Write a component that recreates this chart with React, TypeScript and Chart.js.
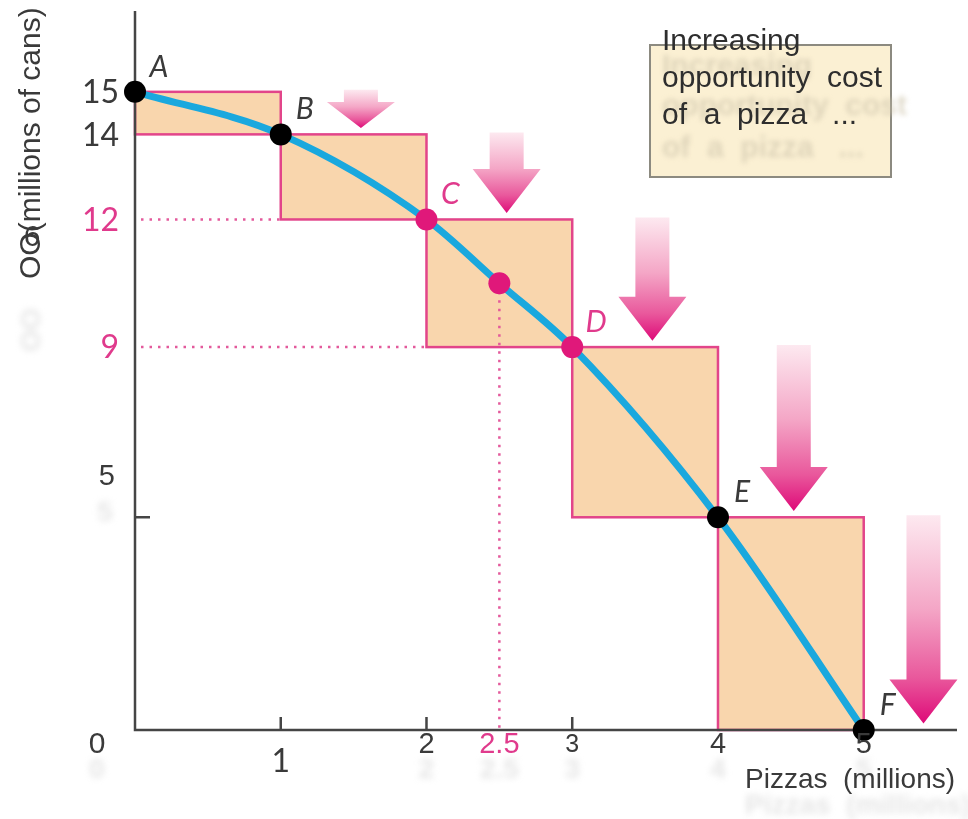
import React, { useEffect, useRef } from "react";
import { Chart, registerables } from "chart.js";

Chart.register(...registerables);

// ---- data ----
const pizzas = [0, 1, 2, 2.5, 3, 4, 5];
const cola = [15, 14, 12, 10.5, 9, 5, 0];
const pointNames = ["A", "B", "C", "", "D", "E", "F"];
const stepPizzas = [0, 1, 2, 3, 4, 5];
const stepCola = [15, 14, 12, 9, 5, 0];
const arrowPizzas = [1.55, 2.55, 3.55, 4.52, 5.41];
const yTickValues = [15, 14, 12, 9, 5];
const yTickLabels = ["15", "14", "12", "9", "5"];
const xTickValues = [0, 1, 2, 2.5, 3, 4, 5];
const xTickLabels = ["0", "1", "2", "2.5", "3", "4", "5"];
const xTickMarks = [1, 2, 3];
const yTickMarks = [5];
const midPizza = 2.5;
const midCola = 10.5;
const boxLines = ["Increasing", "opportunity  cost", "of  a  pizza   ..."];
const xTitle = "Pizzas  (millions)";
const yTitle = "OO(millions of cans)";

// ---- styles ----
const DARK = "#3a3a3a";
const MAGENTA_TEXT = "#e03a8c";
const EDGE = "#e2458a";
const FILL = "#f9d6ad";
const BLUE = "#1aa8de";
const AXIS = "#454545";
const pointColors = ["#000", "#000", "#e0187a", "#e0187a", "#e0187a", "#000", "#000"];
const pointNameColors = [DARK, DARK, MAGENTA_TEXT, DARK, MAGENTA_TEXT, DARK, DARK];
const yLabelColors = [DARK, DARK, MAGENTA_TEXT, MAGENTA_TEXT, DARK];
const xLabelColors = [DARK, DARK, DARK, MAGENTA_TEXT, DARK, DARK, DARK];

const decor = {
  id: "decor",
  beforeDatasetsDraw(chart: any) {
    const ctx: CanvasRenderingContext2D = chart.ctx;
    const xs = chart.scales.x;
    const ys = chart.scales.y;
    const X = (v: number) => xs.getPixelForValue(v);
    const Y = (v: number) => ys.getPixelForValue(v);
    const area = chart.chartArea;
    ctx.save();

    // step rectangles
    for (let i = 0; i < stepPizzas.length - 1; i++) {
      const x0 = X(stepPizzas[i]);
      const x1 = X(stepPizzas[i + 1]);
      const y0 = Y(stepCola[i]);
      const y1 = Y(stepCola[i + 1]);
      ctx.fillStyle = FILL;
      ctx.fillRect(x0, y0, x1 - x0, y1 - y0);
      ctx.strokeStyle = EDGE;
      ctx.lineWidth = 2.5;
      ctx.strokeRect(x0, y0, x1 - x0, y1 - y0);
    }

    // dotted guide lines
    ctx.strokeStyle = "#e35a9c";
    ctx.lineWidth = 2.5;
    ctx.setLineDash([2.5, 6]);
    ctx.beginPath();
    ctx.moveTo(X(0) + 6, Y(stepCola[2]));
    ctx.lineTo(X(stepPizzas[1]), Y(stepCola[2]));
    ctx.moveTo(X(0) + 6, Y(stepCola[3]));
    ctx.lineTo(X(stepPizzas[2]), Y(stepCola[3]));
    ctx.moveTo(X(midPizza), Y(midCola));
    ctx.lineTo(X(midPizza), Y(0));
    ctx.stroke();
    ctx.setLineDash([]);

    // arrows
    for (let i = 0; i < arrowPizzas.length; i++) {
      const cx = X(arrowPizzas[i]);
      const top = Y(stepCola[i]) - 2;
      const tip = Y(stepCola[i + 1] + 0.15);
      const len = tip - top;
      const headLen = Math.min(44, len * 0.68);
      const sh = 17;
      const hh = 34;
      const g = ctx.createLinearGradient(0, top, 0, tip);
      g.addColorStop(0, "#fde9f0");
      g.addColorStop(0.45, "#f4a6c6");
      g.addColorStop(0.78, "#e9589c");
      g.addColorStop(1, "#de0a78");
      ctx.fillStyle = g;
      ctx.beginPath();
      ctx.moveTo(cx - sh, top);
      ctx.lineTo(cx + sh, top);
      ctx.lineTo(cx + sh, tip - headLen);
      ctx.lineTo(cx + hh, tip - headLen);
      ctx.lineTo(cx, tip);
      ctx.lineTo(cx - hh, tip - headLen);
      ctx.lineTo(cx - sh, tip - headLen);
      ctx.closePath();
      ctx.fill();
    }

    // axes
    ctx.strokeStyle = AXIS;
    ctx.lineWidth = 2.5;
    ctx.beginPath();
    ctx.moveTo(area.left, area.top);
    ctx.lineTo(area.left, area.bottom);
    ctx.lineTo(area.right, area.bottom);
    ctx.stroke();
    ctx.beginPath();
    for (const v of xTickMarks) {
      ctx.moveTo(X(v), area.bottom);
      ctx.lineTo(X(v), area.bottom - 13);
    }
    for (const v of yTickMarks) {
      ctx.moveTo(area.left, Y(v));
      ctx.lineTo(area.left + 15, Y(v));
    }
    ctx.stroke();
    ctx.restore();
  },
  afterDatasetsDraw(chart: any) {
    const ctx: CanvasRenderingContext2D = chart.ctx;
    const xs = chart.scales.x;
    const ys = chart.scales.y;
    const X = (v: number) => xs.getPixelForValue(v);
    const Y = (v: number) => ys.getPixelForValue(v);
    ctx.save();
    ctx.textBaseline = "middle";

    // ghost artefacts (faint blurred copies)
    ctx.filter = "blur(3px)";
    ctx.fillStyle = "rgba(205,205,205,0.5)";
    ctx.font = "bold 28px 'Liberation Sans', Arial, sans-serif";
    ctx.textAlign = "center";
    xTickValues.forEach((v, i) => {
      if (i === 1) return;
      const px = i === 0 ? X(v) - 38 : X(v);
      ctx.fillText(xTickLabels[i], px, Y(0) + 40);
    });
    ctx.fillText("5", X(0) - 30, Y(5) - 4);
    ctx.save();
    ctx.translate(32, 330);
    ctx.rotate(-Math.PI / 2);
    ctx.fillText("OO", 0, 0);
    ctx.restore();
    ctx.textAlign = "left";
    ctx.fillText(xTitle, 745, 806);
    ctx.filter = "none";

    // point names
    ctx.font = "italic 30px Lato, 'DejaVu Sans', sans-serif";
    ctx.textAlign = "center";
    pizzas.forEach((p, i) => {
      if (!pointNames[i]) return;
      ctx.fillStyle = pointNameColors[i];
      ctx.fillText(pointNames[i], X(p) + 24, Y(cola[i]) - 25);
    });

    // y tick labels
    ctx.textAlign = "right";
    yTickValues.forEach((v, i) => {
      ctx.fillStyle = yLabelColors[i];
      if (v === 5) {
        ctx.font = "29px 'Liberation Sans', Arial, sans-serif";
        ctx.fillText(yTickLabels[i], X(0) - 20, Y(v) - 40);
      } else {
        ctx.font = "32px Lato, 'DejaVu Sans', sans-serif";
        ctx.fillText(yTickLabels[i], X(0) - 16, Y(v) + 1);
      }
    });

    // x tick labels
    ctx.textAlign = "center";
    xTickValues.forEach((v, i) => {
      ctx.fillStyle = xLabelColors[i];
      if (i === 1) {
        ctx.font = "32px Lato, 'DejaVu Sans', sans-serif";
        ctx.fillText(xTickLabels[i], X(v), Y(0) + 32);
      } else if (i === 4) {
        ctx.font = "25px 'Liberation Sans', Arial, sans-serif";
        ctx.fillText(xTickLabels[i], X(v), Y(0) + 15);
      } else if (i === 0) {
        ctx.font = "30px 'Liberation Sans', Arial, sans-serif";
        ctx.fillText(xTickLabels[i], X(v) - 38, Y(0) + 15);
      } else {
        ctx.font = "29px 'Liberation Sans', Arial, sans-serif";
        ctx.fillText(xTickLabels[i], X(v), Y(0) + 15);
      }
    });

    // axis titles
    ctx.fillStyle = DARK;
    ctx.font = "28px 'Liberation Sans', Arial, sans-serif";
    ctx.textAlign = "left";
    ctx.fillText(xTitle, 745, 780);
    ctx.save();
    ctx.translate(32, 279);
    ctx.rotate(-Math.PI / 2);
    ctx.font = "30px 'Liberation Sans', Arial, sans-serif";
    ctx.textAlign = "left";
    ctx.fillText(yTitle, 0, 0);
    ctx.restore();
    ctx.textAlign = "center";
    ctx.font = "30px 'Liberation Sans', Arial, sans-serif";
    ctx.fillText("6", 32, 238);

    // text box
    ctx.fillStyle = "#fbf0d3";
    ctx.fillRect(650, 45, 241, 132);
    ctx.strokeStyle = "#8c8a80";
    ctx.lineWidth = 2;
    ctx.strokeRect(650, 45, 241, 132);
    ctx.filter = "blur(2.5px)";
    ctx.fillStyle = "rgba(205,195,170,0.6)";
    ctx.font = "bold 30px 'Liberation Sans', Arial, sans-serif";
    ctx.textAlign = "left";
    ctx.fillText(boxLines[0], 662, 67);
    ctx.fillText(boxLines[1], 662, 107);
    ctx.fillText(boxLines[2], 662, 149);
    ctx.filter = "none";
    ctx.fillStyle = "#2e2e2e";
    ctx.font = "30px 'Liberation Sans', Arial, sans-serif";
    ctx.fillText(boxLines[0], 662, 42);
    ctx.fillText(boxLines[1], 662, 79);
    ctx.fillText(boxLines[2], 662, 116);
    ctx.restore();
  },
};

export default function App() {
  const ref = useRef<HTMLCanvasElement | null>(null);
  useEffect(() => {
    if (!ref.current) return;
    const pts = pizzas.map((p, i) => ({ x: p, y: cola[i] }));
    const chart = new Chart(ref.current, {
      type: "scatter",
      data: {
        datasets: [
          {
            type: "scatter",
            data: pts,
            pointRadius: 11,
            pointHoverRadius: 11,
            pointBackgroundColor: pointColors,
            pointBorderWidth: 0,
            clip: false,
            order: 0,
          } as any,
          {
            type: "line",
            data: pts,
            borderColor: BLUE,
            borderWidth: 7,
            pointRadius: 0,
            cubicInterpolationMode: "monotone",
            fill: false,
            clip: false,
            order: 1,
          } as any,
        ],
      },
      options: {
        animation: false,
        responsive: false,
        events: [],
        layout: { padding: { left: 135, right: 10, top: 10, bottom: 89 } },
        plugins: { legend: { display: false }, tooltip: { enabled: false } },
        scales: {
          x: { type: "linear", min: 0, max: 5.64, display: false },
          y: { type: "linear", min: 0, max: 16.9, display: false },
        },
      },
      plugins: [decor],
    });
    return () => chart.destroy();
  }, []);
  return (
    <div style={{ position: "absolute", left: 0, top: 0, width: 968, height: 819, background: "#fff" }}>
      <canvas ref={ref} width={968} height={819} />
    </div>
  );
}
